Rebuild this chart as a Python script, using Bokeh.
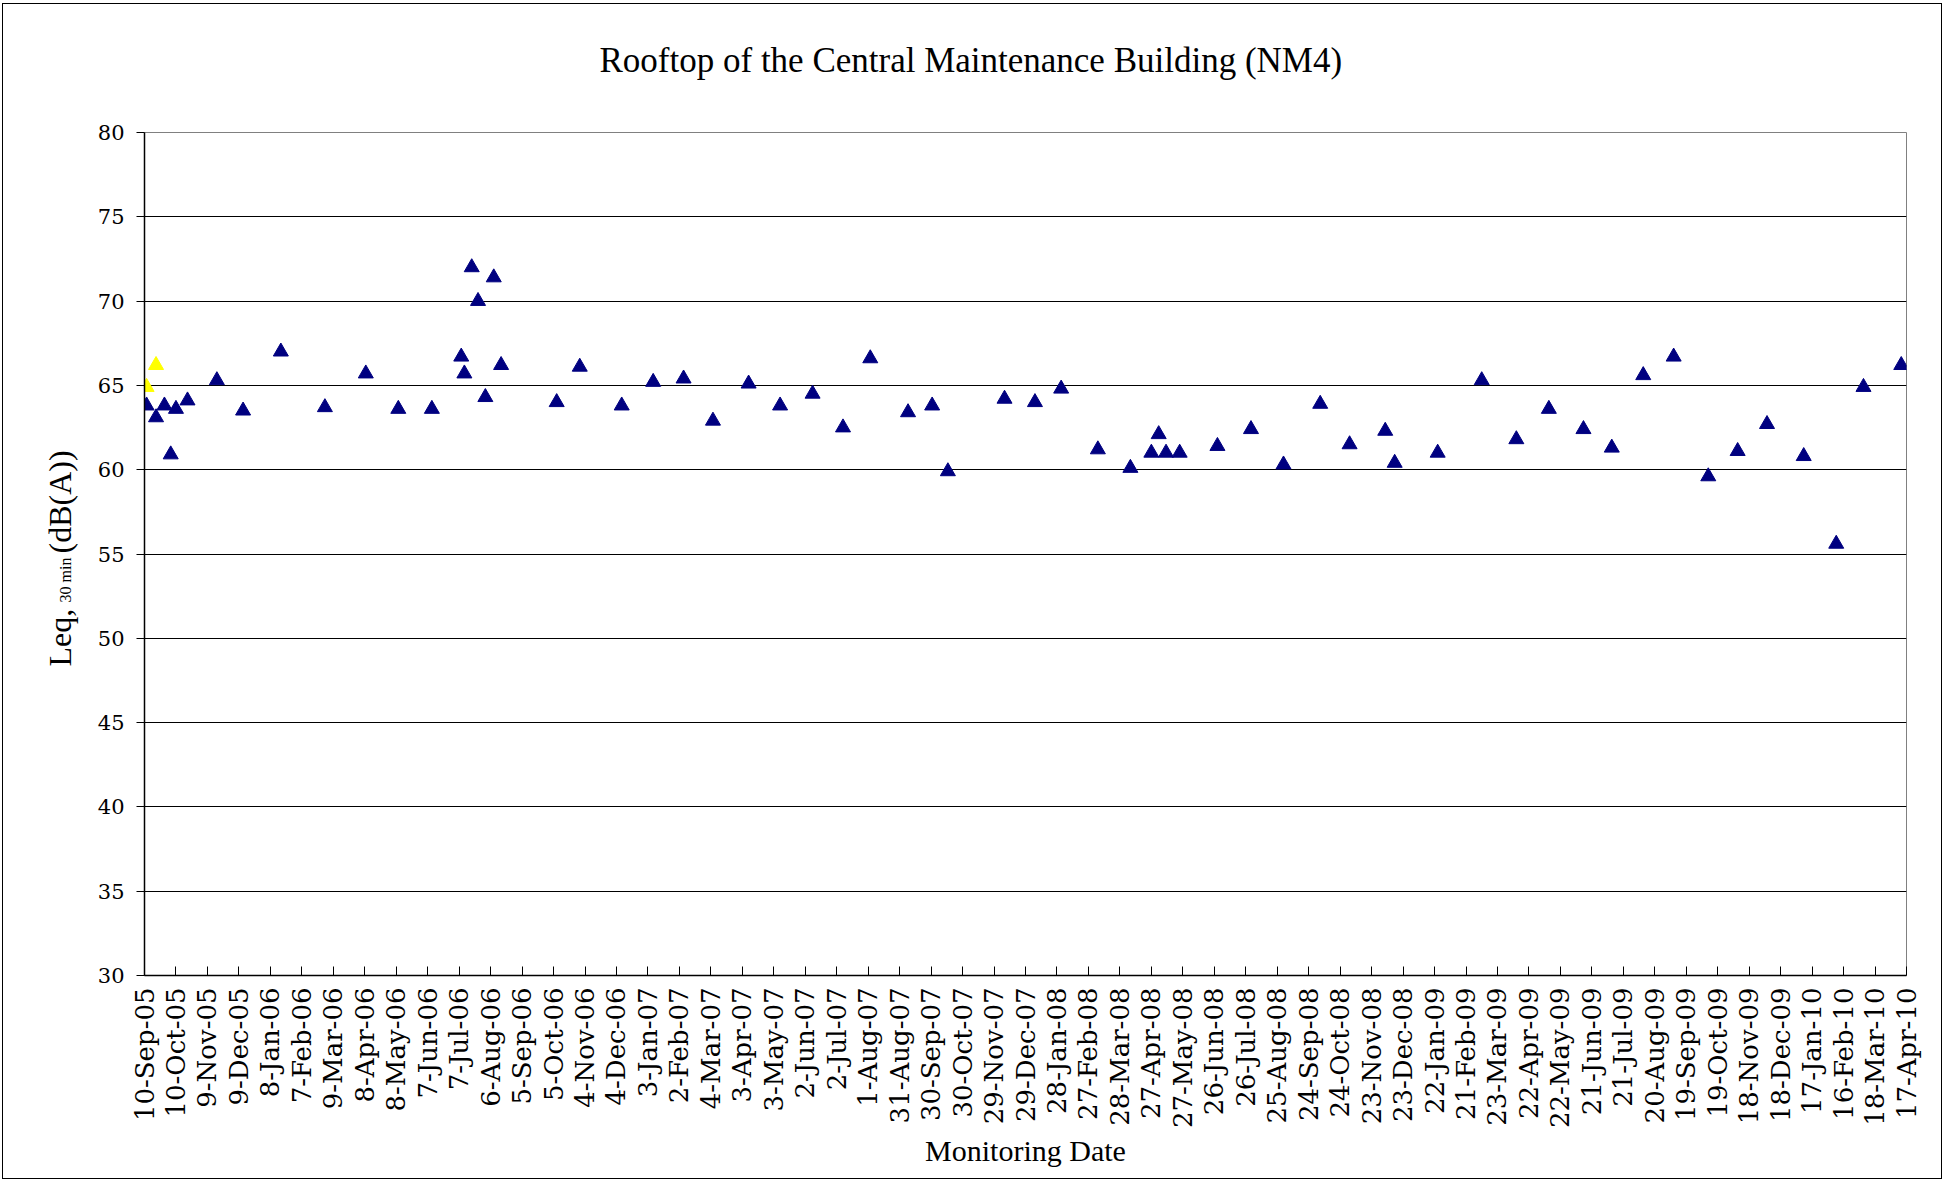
from datetime import datetime
from math import pi

from bokeh.plotting import figure
from bokeh.layouts import row
from bokeh.models import Range1d, FixedTicker, ColumnDataSource, Title
from bokeh.core.properties import value
from bokeh.embed import file_html
from bokeh.resources import INLINE

# ---------------- data ----------------
TITLE = "Rooftop of the Central Maintenance Building  (NM4)"
X_TITLE = "Monitoring Date"
Y_TITLE_MAIN = "Leq,"
Y_TITLE_SUB = "30 min"
Y_TITLE_UNIT = "(dB(A))"

TICK_LABELS = [
    "10-Sep-05", "10-Oct-05", "9-Nov-05", "9-Dec-05", "8-Jan-06", "7-Feb-06",
    "9-Mar-06", "8-Apr-06", "8-May-06", "7-Jun-06", "7-Jul-06", "6-Aug-06",
    "5-Sep-06", "5-Oct-06", "4-Nov-06", "4-Dec-06", "3-Jan-07", "2-Feb-07",
    "4-Mar-07", "3-Apr-07", "3-May-07", "2-Jun-07", "2-Jul-07", "1-Aug-07",
    "31-Aug-07", "30-Sep-07", "30-Oct-07", "29-Nov-07", "29-Dec-07", "28-Jan-08",
    "27-Feb-08", "28-Mar-08", "27-Apr-08", "27-May-08", "26-Jun-08", "26-Jul-08",
    "25-Aug-08", "24-Sep-08", "24-Oct-08", "23-Nov-08", "23-Dec-08", "22-Jan-09",
    "21-Feb-09", "23-Mar-09", "22-Apr-09", "22-May-09", "21-Jun-09", "21-Jul-09",
    "20-Aug-09", "19-Sep-09", "19-Oct-09", "18-Nov-09", "18-Dec-09", "17-Jan-10",
    "16-Feb-10", "18-Mar-10", "17-Apr-10",
]

Y_TICKS = [30, 35, 40, 45, 50, 55, 60, 65, 70, 75, 80]

NAVY_DATES = [
    "2005-09-12", "2005-09-21", "2005-09-29", "2005-10-05", "2005-10-10",
    "2005-10-21", "2005-11-18", "2005-12-13", "2006-01-18", "2006-03-01",
    "2006-04-09", "2006-05-10", "2006-06-11", "2006-07-09", "2006-07-12",
    "2006-07-19", "2006-07-25", "2006-08-01", "2006-08-09", "2006-08-16",
    "2006-10-08", "2006-10-30", "2006-12-09", "2007-01-08", "2007-02-06",
    "2007-03-06", "2007-04-09", "2007-05-09", "2007-06-09", "2007-07-08",
    "2007-08-03", "2007-09-08", "2007-10-01", "2007-10-16", "2007-12-09",
    "2008-01-07", "2008-02-01", "2008-03-07", "2008-04-07", "2008-04-27",
    "2008-05-04", "2008-05-11", "2008-05-24", "2008-06-29", "2008-07-31",
    "2008-08-31", "2008-10-05", "2008-11-02", "2008-12-06", "2008-12-15",
    "2009-01-25", "2009-03-08", "2009-04-10", "2009-05-11", "2009-06-13",
    "2009-07-10", "2009-08-09", "2009-09-07", "2009-10-10", "2009-11-07",
    "2009-12-05", "2010-01-09", "2010-02-09", "2010-03-07", "2010-04-12",
]
NAVY_LEQ = [
    63.8, 63.1, 63.8, 60.9, 63.6,
    64.1, 65.3, 63.5, 67.0, 63.7,
    65.7, 63.6, 63.6, 66.7, 65.7,
    72.0, 70.0, 64.3, 71.4, 66.2,
    64.0, 66.1, 63.8, 65.2, 65.4,
    62.9, 65.1, 63.8, 64.5, 62.5,
    66.6, 63.4, 63.8, 59.9, 64.2,
    64.0, 64.8, 61.2, 60.1, 61.0,
    62.1, 61.0, 61.0, 61.4, 62.4,
    60.3, 63.9, 61.5, 62.3, 60.4,
    61.0, 65.3, 61.8, 63.6, 62.4,
    61.3, 65.6, 66.7, 59.6, 61.1,
    62.7, 60.8, 55.6, 64.9, 66.2,
]

YELLOW_DATES = ["2005-09-12", "2005-09-21"]
YELLOW_LEQ = [64.9, 66.2]

# ---------------- helpers ----------------
EPOCH = datetime(1970, 1, 1)


def ms(d):
    return (d - EPOCH).total_seconds() * 1000.0


def iso_ms(s):
    return ms(datetime.strptime(s, "%Y-%m-%d"))


tick_ms = [ms(datetime.strptime(t, "%d-%b-%y")) for t in TICK_LABELS]

navy = ColumnDataSource(data=dict(x=[iso_ms(d) for d in NAVY_DATES], y=NAVY_LEQ))
yellow = ColumnDataSource(data=dict(x=[iso_ms(d) for d in YELLOW_DATES], y=YELLOW_LEQ))

# ---------------- layout sizes ----------------
H = 1174
LAB_W = 90
MAIN_W = 1848
TOP = 128
BOTTOM = 203
serif = "Liberation Serif"
tick_font = "DejaVu Serif"

# ---------------- y-axis title strip (pixel coordinates) ----------------
ylab = figure(
    width=LAB_W, height=H, output_backend="svg", toolbar_location=None,
    x_range=Range1d(0, LAB_W), y_range=Range1d(BOTTOM, H - TOP),
    x_axis_type=None, y_axis_type=None,
    min_border_left=0, min_border_right=0,
    min_border_top=TOP, min_border_bottom=BOTTOM,
)
ylab.outline_line_color = None
ylab.background_fill_color = "white"
ylab.border_fill_color = "white"
ylab.text(x=[56], y=[512], text=[Y_TITLE_MAIN], angle=pi / 2,
          text_align="left", text_baseline="alphabetic",
          text_font=value(serif), text_font_size="32px", text_color="black")
ylab.text(x=[62], y=[576], text=[Y_TITLE_SUB], angle=pi / 2,
          text_align="left", text_baseline="alphabetic",
          text_font=value(serif), text_font_size="16px", text_color="black")
ylab.text(x=[56], y=[625], text=[Y_TITLE_UNIT], angle=pi / 2,
          text_align="left", text_baseline="alphabetic",
          text_font=value(serif), text_font_size="32px", text_color="black")

# ---------------- main chart ----------------
p = figure(
    width=MAIN_W, height=H,
    output_backend="svg", toolbar_location=None,
    x_range=Range1d(tick_ms[0], tick_ms[-1]),
    y_range=Range1d(Y_TICKS[0], Y_TICKS[-1]),
    min_border_left=51, min_border_right=35,
    min_border_top=TOP, min_border_bottom=BOTTOM,
)
p.background_fill_color = "white"
p.border_fill_color = "white"
p.outline_line_color = "#808080"
p.outline_line_width = 1

# spacer between frame and title
p.add_layout(Title(text="\u00a0", text_font_size="10px", standoff=38,
                   text_color="white"), "above")

p.title.text = TITLE
p.title.align = "left"
p.title.offset = 455
p.title.vertical_align = "top"
p.title.standoff = 0
p.title.text_font = serif
p.title.text_font_size = "35px"
p.title.text_font_style = "normal"
p.title.text_color = "black"

p.xgrid.visible = False
p.ygrid.ticker = FixedTicker(ticks=Y_TICKS)
p.ygrid.grid_line_color = "black"
p.ygrid.grid_line_width = 1

xa = p.xaxis[0]
xa.ticker = FixedTicker(ticks=tick_ms)
xa.major_label_overrides = {t: lab for t, lab in zip(tick_ms, TICK_LABELS)}
xa.major_label_orientation = pi / 2
xa.major_tick_in = 9
xa.major_tick_out = 0
xa.minor_tick_line_color = None
xa.axis_line_color = "black"
xa.axis_line_width = 1.5
xa.major_tick_line_color = "black"
xa.major_label_standoff = 12
xa.major_label_text_font = tick_font
xa.major_label_text_font_size = "26px"
xa.major_label_text_color = "black"
xa.axis_label = X_TITLE
xa.axis_label_standoff = 3
xa.axis_label_text_font = serif
xa.axis_label_text_font_size = "30px"
xa.axis_label_text_font_style = "normal"
xa.axis_label_text_color = "black"

ya = p.yaxis[0]
ya.ticker = FixedTicker(ticks=Y_TICKS)
ya.major_tick_in = 0
ya.major_tick_out = 8
ya.minor_tick_line_color = None
ya.axis_line_color = "black"
ya.axis_line_width = 1.5
ya.major_tick_line_color = "black"
ya.major_label_standoff = 12
ya.major_label_text_font = tick_font
ya.major_label_text_font_size = "21px"
ya.major_label_text_color = "black"

p.scatter("x", "y", source=navy, marker="triangle", size=15,
          fill_color="#000080", line_color="#000080")
p.scatter("x", "y", source=yellow, marker="triangle", size=15,
          fill_color="#FFFF00", line_color="#FFFF00")

layout = row(ylab, p, spacing=0)
layout.styles = {"border": "1px solid black", "margin-left": "2px", "margin-top": "3px"}

open("out.html", "w").write(file_html(layout, INLINE))
